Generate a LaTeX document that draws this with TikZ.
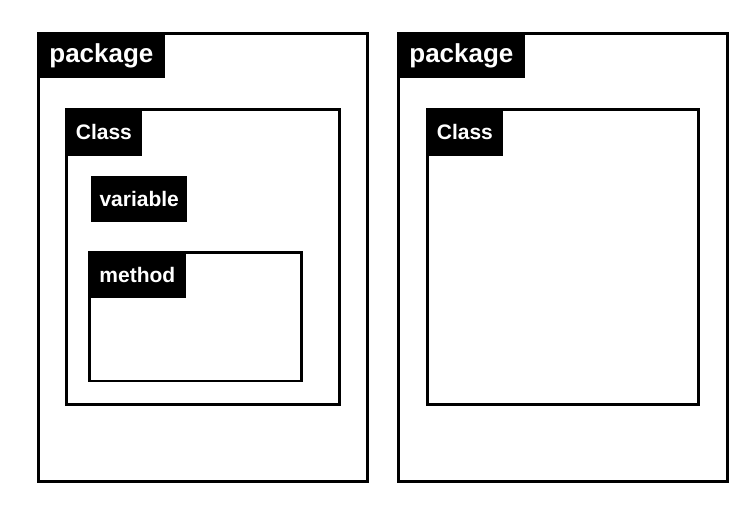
\documentclass[tikz,border=0pt]{standalone}
\usepackage{fontspec}
\setmainfont{Liberation Sans}
\begin{document}
\begin{tikzpicture}[x=1pt,y=-1pt,
  frame/.style={draw=black,line width=2.6pt,fill=white},
  tag/.style={fill=black,text=white,inner sep=0pt,anchor=north west,font=\bfseries},
  bigtag/.style={tag,font=\fontsize{26}{28}\selectfont\bfseries},
  smalltag/.style={tag,font=\fontsize{21}{23}\selectfont\bfseries}]
\useasboundingbox[fill=white] (0,0) rectangle (750,510);
% left package
\draw[frame] (38.5,33.5) rectangle (367.5,481.5);
\coordinate (p1) at (37.2,32.2);
\node[bigtag,minimum width=128pt,minimum height=46pt] (pkg1) at (p1) {\raisebox{-2pt}{package}};
\draw[frame] (66.5,109.5) rectangle (339.5,404.5);
\coordinate (c1) at (65.2,108.2);
\node[smalltag,minimum width=77pt,minimum height=48pt] (cls1) at (c1) {\raisebox{-1.5pt}{Class}};
\node[smalltag,minimum width=96pt,minimum height=46pt] (var) at (91,176) {\raisebox{-1.5pt}{variable}};
\draw[frame] (89.5,252.5) rectangle (301.5,381);
\coordinate (m1) at (88.2,251.2);
\node[smalltag,minimum width=98pt,minimum height=47pt] (meth) at (m1) {\raisebox{-1.5pt}{method}};
% right package
\draw[frame] (398.5,33.5) rectangle (727.5,481.5);
\coordinate (p2) at (397.2,32.2);
\node[bigtag,minimum width=128pt,minimum height=46pt] (pkg2) at (p2) {\raisebox{-2pt}{package}};
\draw[frame] (427.5,109.5) rectangle (698.5,404.5);
\coordinate (c2) at (426.2,108.2);
\node[smalltag,minimum width=77pt,minimum height=48pt] (cls2) at (c2) {\raisebox{-1.5pt}{Class}};
\end{tikzpicture}
\end{document}
